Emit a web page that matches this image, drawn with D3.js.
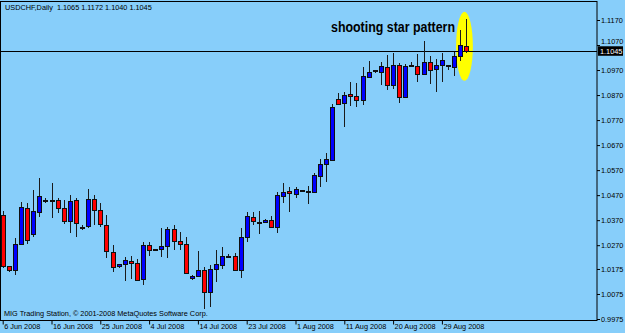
<!DOCTYPE html>
<html>
<head>
<meta charset="utf-8">
<script src="https://cdn.jsdelivr.net/npm/d3@7"></script>
<style>
  body { margin: 0; background: #87cefa; }
  svg { display: block; }
  text { font-family: "Liberation Sans", Arial, sans-serif; }
</style>
</head>
<body>
<div id="chart"></div>
<script>
// USDCHF daily bars
const open = [1.0387,1.0183,1.0170,1.0274,1.0417,1.0313,1.0401,1.0450,1.0450,1.0449,
  1.0417,1.0366,1.0450,1.0340,1.0343,1.0454,1.0410,1.0350,1.0239,1.0183,
  1.0194,1.0206,1.0197,1.0133,1.0270,1.0247,1.0254,1.0266,1.0334,1.0283,
  1.0274,1.0137,1.0146,1.0170,1.0081,1.0174,1.0189,1.0226,1.0223,1.0170,
  1.0301,1.0381,1.0362,1.0362,1.0370,1.0341,1.0466,1.0483,1.0473,1.0487,
  1.0485,1.0481,1.0543,1.0593,1.0607,1.0854,1.0835,1.0871,1.0865,1.0847,
  1.0939,1.0967,1.0961,1.0981,1.0907,1.0987,1.0861,1.0990,1.0983,1.0953,
  1.0999,1.0973,1.0987,1.0987,1.0979,1.1023,1.1065];
const high = [1.0407,1.0186,1.0298,1.0444,1.0438,1.0490,1.0538,1.0458,1.0518,1.0459,
  1.0451,1.0470,1.0457,1.0350,1.0494,1.0470,1.0437,1.0390,1.0270,1.0196,
  1.0223,1.0226,1.0214,1.0283,1.0281,1.0254,1.0339,1.0343,1.0350,1.0323,
  1.0303,1.0150,1.0247,1.0183,1.0190,1.0250,1.0263,1.0234,1.0239,1.0339,
  1.0402,1.0401,1.0406,1.0374,1.0386,1.0481,1.0519,1.0503,1.0501,1.0492,
  1.0506,1.0557,1.0613,1.0637,1.0835,1.0877,1.0883,1.0923,1.0919,1.0981,
  1.1007,1.0970,1.1003,1.1030,1.1037,1.0997,1.0994,1.1003,1.1034,1.1086,
  1.1026,1.1014,1.1037,1.0990,1.1041,1.1130,1.1172];
const low = [1.0178,1.0162,1.0150,1.0270,1.0273,1.0301,1.0382,1.0440,1.0380,1.0398,
  1.0353,1.0317,1.0303,1.0330,1.0339,1.0350,1.0343,1.0217,1.0161,1.0180,
  1.0126,1.0134,1.0126,1.0110,1.0227,1.0246,1.0223,1.0219,1.0250,1.0250,
  1.0153,1.0132,1.0143,1.0014,1.0023,1.0123,1.0173,1.0222,1.0167,1.0137,
  1.0283,1.0350,1.0314,1.0359,1.0337,1.0317,1.0437,1.0401,1.0459,1.0482,
  1.0434,1.0478,1.0503,1.0521,1.0606,1.0830,1.0741,1.0827,1.0823,1.0830,
  1.0937,1.0957,1.0910,1.0890,1.0893,1.0839,1.0857,1.0981,1.0921,1.0950,
  1.0913,1.0881,1.0921,1.0970,1.0946,1.1007,1.1040];
const close = [1.0183,1.0170,1.0274,1.0420,1.0290,1.0403,1.0463,1.0449,1.0450,1.0417,
  1.0366,1.0446,1.0357,1.0342,1.0453,1.0409,1.0353,1.0243,1.0182,1.0193,
  1.0210,1.0195,1.0130,1.0270,1.0250,1.0253,1.0266,1.0334,1.0283,1.0274,
  1.0157,1.0146,1.0167,1.0081,1.0174,1.0194,1.0226,1.0225,1.0170,1.0301,
  1.0383,1.0366,1.0361,1.0370,1.0341,1.0467,1.0479,1.0475,1.0494,1.0486,
  1.0484,1.0547,1.0593,1.0613,1.0822,1.0833,1.0869,1.0863,1.0847,1.0943,
  1.0961,1.0966,1.0986,1.0907,1.0987,1.0861,1.0983,1.0983,1.0953,1.0999,
  1.0970,1.0990,1.1010,1.0988,1.1026,1.1067,1.1045];

const dateLabels = ["6 Jun 2008","16 Jun 2008","25 Jun 2008","4 Jul 2008","14 Jul 2008",
  "23 Jul 2008","1 Aug 2008","11 Aug 2008","20 Aug 2008","29 Aug 2008"];
const dateIdx = [0, 8, 16, 24, 32, 40, 48, 56, 64, 72];
const priceTicks = [1.1170,1.1070,1.0970,1.0870,1.0770,1.0670,1.0570,1.0470,1.0370,1.0270,1.0175,1.0075,0.9975];
const lastPrice = 1.1045;

const W = 625, H = 333;
const frame = {left: 0.5, top: 1.5, right: 597, bottom: 320.5};

const svg = d3.select("#chart").append("svg").attr("width", W).attr("height", H);
svg.append("rect").attr("width", W).attr("height", H).attr("fill", "#87cefa");

const bars = open.map((o, i) => ({i: i, o: o, h: high[i], l: low[i], c: close[i]}));

// bar index -> x, 97 slots visible (chart shifted right)
const x = d3.scaleLinear().domain([0, 97]).range([2.7, 2.7 + 6.1 * 97]);
const y = d3.scaleLinear().domain([0.9975, 1.1170]).range([319, 20]);

// highlight ellipse round the last bar
svg.append("ellipse")
  .attr("cx", x(75.7)).attr("cy", 46.3)
  .attr("rx", 8.4).attr("ry", 34.5)
  .attr("fill", "#ffff00");

// frame
svg.append("rect")
  .attr("x", frame.left).attr("y", frame.top)
  .attr("width", frame.right - frame.left).attr("height", frame.bottom - frame.top)
  .attr("fill", "none").attr("stroke", "#000").attr("stroke-width", 1);

// current price line
svg.append("line")
  .attr("x1", frame.left).attr("x2", frame.right)
  .attr("y1", Math.round(y(lastPrice)) + 0.5).attr("y2", Math.round(y(lastPrice)) + 0.5)
  .attr("stroke", "#000").attr("stroke-width", 1);

// candles
const g = svg.append("g").attr("shape-rendering", "crispEdges");
g.selectAll(".wick").data(bars).enter().append("line")
  .attr("x1", d => Math.round(x(d.i)) + 0.5).attr("x2", d => Math.round(x(d.i)) + 0.5)
  .attr("y1", d => y(d.h)).attr("y2", d => y(d.l))
  .attr("stroke", "#1a1a1a").attr("stroke-width", 1);

g.selectAll(".body").data(bars).enter().append("rect")
  .attr("x", d => Math.round(x(d.i)) - 1.5)
  .attr("y", d => y(Math.max(d.o, d.c)))
  .attr("width", 4)
  .attr("height", d => Math.max(1, Math.abs(y(d.o) - y(d.c))))
  .attr("fill", d => d.c >= d.o ? "#0000ff" : "#ff0000")
  .attr("stroke", "#101010").attr("stroke-width", 1);

// price axis
const yAxis = d3.axisRight(y).tickValues(priceTicks).tickSize(3).tickPadding(1)
  .tickFormat(d3.format(".4f"));
const ya = svg.append("g").attr("transform", "translate(" + frame.right + ",0)").call(yAxis);
ya.select(".domain").remove();
ya.selectAll("text").attr("font-size", "7.3px").attr("fill", "#000").attr("font-family", null);
ya.selectAll("line").attr("stroke", "#000");
// the label right above the price box sits half under it, as in MT4
ya.selectAll("text").filter(d => d === 1.1070).attr("dy", "-0.2em");

// last price label
const ly = y(lastPrice);
svg.append("rect").attr("x", frame.right + 1).attr("y", ly - 5)
  .attr("width", 25).attr("height", 9.5).attr("fill", "#000");
svg.append("text").attr("x", frame.right + 3).attr("y", ly + 2.6)
  .attr("font-size", "7.3px").attr("fill", "#fff").text(lastPrice.toFixed(4));

// date axis
const xAxis = d3.axisBottom(x).tickValues(dateIdx).tickSize(4)
  .tickFormat((d, k) => dateLabels[k]);
const xa = svg.append("g").attr("transform", "translate(0," + frame.bottom + ")").call(xAxis);
xa.select(".domain").remove();
xa.selectAll("text").attr("font-size", "7.3px").attr("fill", "#000").attr("font-family", null)
  .attr("text-anchor", "start").attr("x", 1).attr("y", 3).attr("dy", "0.71em");
xa.selectAll("line").attr("stroke", "#000");

// texts
svg.append("text").attr("x", 5).attr("y", 10.2).attr("font-size", "7.3px")
  .text("USDCHF,Daily  1.1065 1.1172 1.1040 1.1045").attr("xml:space", "preserve")
  .style("white-space", "pre");
svg.append("text").attr("x", 4).attr("y", 316).attr("font-size", "7.3px")
  .text("MIG Trading Station, © 2001-2008 MetaQuotes Software Corp.");
svg.append("text").attr("x", 331).attr("y", 32).attr("font-size", "14px")
  .attr("font-weight", "bold").attr("textLength", 124).attr("lengthAdjust", "spacingAndGlyphs")
  .text("shooting star pattern");
</script>
</body>
</html>
